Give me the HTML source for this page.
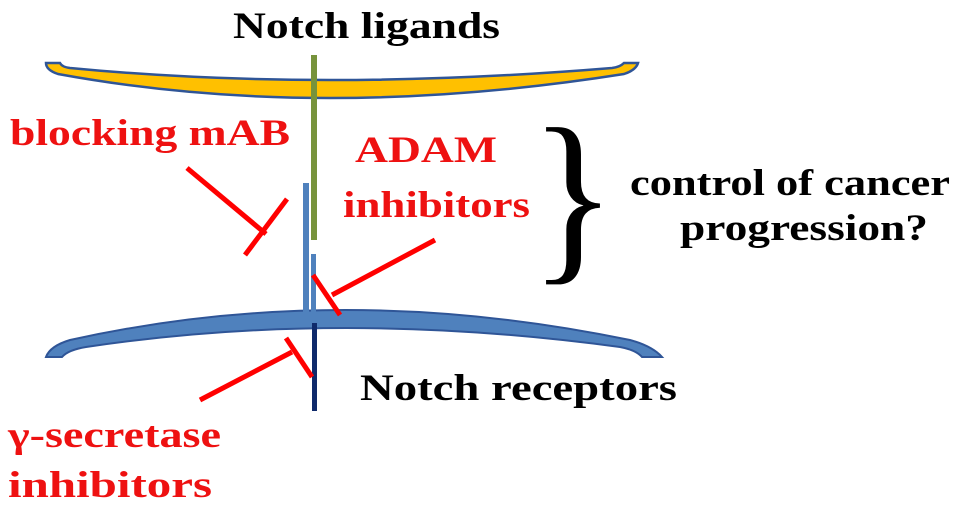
<!DOCTYPE html>
<html><head><meta charset="utf-8"><style>
html,body{margin:0;padding:0;background:#fff;}
svg{display:block;}
text{font-family:"Liberation Serif",serif;font-weight:bold;}
</style></head><body>
<svg width="964" height="519" viewBox="0 0 964 519">
  <text x="233" y="38" font-size="37" fill="#000" textLength="267" lengthAdjust="spacingAndGlyphs">Notch ligands</text>
  <path d="M46,63 L60,63 Q62,67 70,68 Q320,92 612,68 Q620,67 624,63 L638,63 Q636,70 624,74 Q320,122 58,74 Q46,70 46,63 Z" fill="#ffc000" stroke="#2f5597" stroke-width="2.5"/>
  <rect x="311" y="55" width="6" height="185" fill="#77933c"/>
  <path d="M46,357 Q50,346 70,340 Q340,280 630,340 Q652,346 662,357 L642,357 Q636,350 620,347 Q340,309 86,347 Q68,350 62,357 Z" fill="#4f81bd" stroke="#2f5597" stroke-width="2"/>
  <rect x="303" y="183" width="6" height="132" fill="#4f81bd"/>
  <rect x="311" y="254" width="5" height="61" fill="#4f81bd"/>
  <rect x="312" y="323" width="5" height="88" fill="#0f2a6b"/>
  <g stroke="#ff0000" stroke-width="5" fill="none">
    <line x1="187" y1="168" x2="266" y2="234"/>
    <line x1="287" y1="199" x2="245" y2="255"/>
    <line x1="435" y1="240" x2="332" y2="295"/>
    <line x1="313" y1="275" x2="340" y2="315"/>
    <line x1="200" y1="400" x2="292" y2="352"/>
    <line x1="286" y1="338" x2="312" y2="377"/>
  </g>
  <text x="10" y="145" font-size="37" fill="#ee1111" textLength="280" lengthAdjust="spacingAndGlyphs">blocking mAB</text>
  <text x="355" y="162" font-size="37" fill="#ee1111" textLength="142" lengthAdjust="spacingAndGlyphs">ADAM</text>
  <text x="343" y="217" font-size="37" fill="#ee1111" textLength="187" lengthAdjust="spacingAndGlyphs">inhibitors</text>
  <text x="0" y="0" font-size="190" fill="#000" text-anchor="middle" style="font-weight:normal" transform="translate(573,259) scale(0.95,1)">}</text>
  <text x="630" y="195" font-size="37" fill="#000" textLength="320" lengthAdjust="spacingAndGlyphs">control of cancer</text>
  <text x="680" y="240" font-size="37" fill="#000" textLength="248" lengthAdjust="spacingAndGlyphs">progression?</text>
  <text x="360" y="400" font-size="37" fill="#000" textLength="317" lengthAdjust="spacingAndGlyphs">Notch receptors</text>
  <text x="8" y="447" font-size="37" fill="#ee1111" textLength="213" lengthAdjust="spacingAndGlyphs">γ-secretase</text>
  <text x="8" y="497" font-size="37" fill="#ee1111" textLength="204" lengthAdjust="spacingAndGlyphs">inhibitors</text>
</svg>
</body></html>
